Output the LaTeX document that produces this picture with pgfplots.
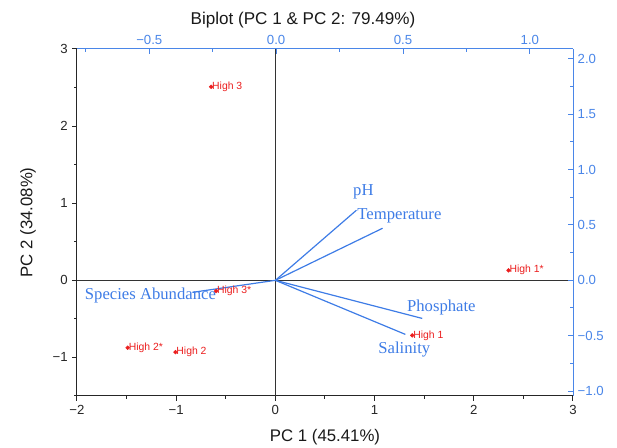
\documentclass[border=0pt]{standalone}
\usepackage{pgfplots}
\pgfplotsset{compat=1.18}
\usepackage{fontspec}
\setmainfont{Liberation Sans}
\newfontfamily\tnr{Liberation Serif}
\definecolor{axblue}{RGB}{74,134,232}
\definecolor{vecblue}{RGB}{62,124,230}
\definecolor{ptred}{RGB}{235,30,30}

\begin{document}
\begin{tikzpicture}
% scores axis (bottom / left)
\begin{axis}[name=main, at={(0,0)}, anchor=south west, scale only axis,
 width=372pt, height=260.25pt,
 xmin=-2, xmax=3, ymin=-1.5, ymax=3, clip=false,
 axis x line*=bottom, axis y line*=left,
 axis line style={-, black!85, line width=0.75pt},
 tick align=outside, tick style={black!85, line width=0.75pt},
 major tick length=3.5pt, minor tick length=2pt,
 xtick={-2,-1,0,1,2,3}, xticklabels={−2,−1,0,1,2,3},
 minor xtick={-1.5,-0.5,0.5,1.5,2.5},
 ytick={-1,0,1,2,3}, yticklabels={−1,0,1,2,3},
 minor ytick={-1.5,-0.5,0.5,1.5,2.5},
 tick label style={font=\fontsize{9.9}{12}\selectfont, text=black!85},
]
\addplot[black!80, line width=1pt] coordinates {(-2,0) (3,0)};
\addplot[black!80, line width=1pt] coordinates {(0,-1.5) (0,3)};

% loadings
\addplot[vecblue, line width=0.9pt] coordinates {(0,0) (0.817,0.909)};
\addplot[vecblue, line width=0.9pt] coordinates {(0,0) (1.080,0.675)};
\addplot[vecblue, line width=0.9pt] coordinates {(0,0) (1.480,-0.494)};
\addplot[vecblue, line width=0.9pt] coordinates {(0,0) (1.310,-0.701)};
\addplot[vecblue, line width=0.9pt] coordinates {(0,0) (-0.837,-0.156)};

% scores
\addplot[only marks, mark=*, mark size=1.4pt, ptred,
 point meta=explicit symbolic, nodes near coords,
 nodes near coords style={anchor=west, inner sep=0.6pt, text=ptred,
   font=\fontsize{7.8}{9}\selectfont}]
 coordinates {
 (-0.648,2.51) [High 3]
 (-0.598,-0.139) [High 3*]
 (-1.489,-0.874) [High 2*]
 (-1.008,-0.931) [High 2]
 (1.379,-0.714) [High 1]
 (2.350,0.130) [High 1*]
 };

\begin{scope}[every node/.style={text=vecblue, font=\tnr\fontsize{12.5}{14}\selectfont, inner sep=0pt}]
\node at (axis cs:0.887,1.143) {pH};
\node at (axis cs:1.250,0.838) {Temperature};
\node at (axis cs:1.673,-0.357) {Phosphate};
\node at (axis cs:1.300,-0.896) {Salinity};
\node at (axis cs:-1.260,-0.195) {Species Abundance};
\end{scope}

\node[font=\fontsize{12.8}{15}\selectfont, text=black!90] at (axis description cs:0.4556,1.0836) {Biplot (PC 1 \& PC 2: 79.49\%)};
\node[font=\fontsize{12.6}{15}\selectfont, text=black!90] at (axis description cs:0.5,-0.118) {PC 1 (45.41\%)};
\node[font=\fontsize{12.6}{15}\selectfont, text=black!90, rotate=90] at (axis description cs:-0.0988,0.5) {PC 2 (34.08\%)};
\end{axis}

% loadings axis (top / right)
\begin{axis}[at={(0,0)}, anchor=south west, scale only axis,
 width=372pt, height=260.25pt,
 xmin=-0.785, xmax=1.17, ymin=-1.045, ymax=2.09,
 axis x line*=top, axis y line*=right,
 axis line style={-, axblue, line width=0.75pt},
 tick align=inside, tick style={axblue, line width=0.75pt},
 major tick length=3.5pt, minor tick length=2pt,
 xtick={-0.5,0,0.5,1}, xticklabels={−0.5,0.0,0.5,1.0},
 minor xtick={-0.75,-0.25,0.25,0.75},
 ytick={-1,-0.5,0,0.5,1,1.5,2}, yticklabels={−1.0,−0.5,0.0,0.5,1.0,1.5,2.0},
 minor ytick={-0.75,-0.25,0.25,0.75,1.25,1.75},
 tick label style={font=\fontsize{9.9}{12}\selectfont, text=axblue},
]
\addplot[draw=none] coordinates {(0,0)};
\end{axis}

\pgfresetboundingbox
\path (-57.75pt,-39pt) rectangle (405pt,297pt);
\end{tikzpicture}
\end{document}
